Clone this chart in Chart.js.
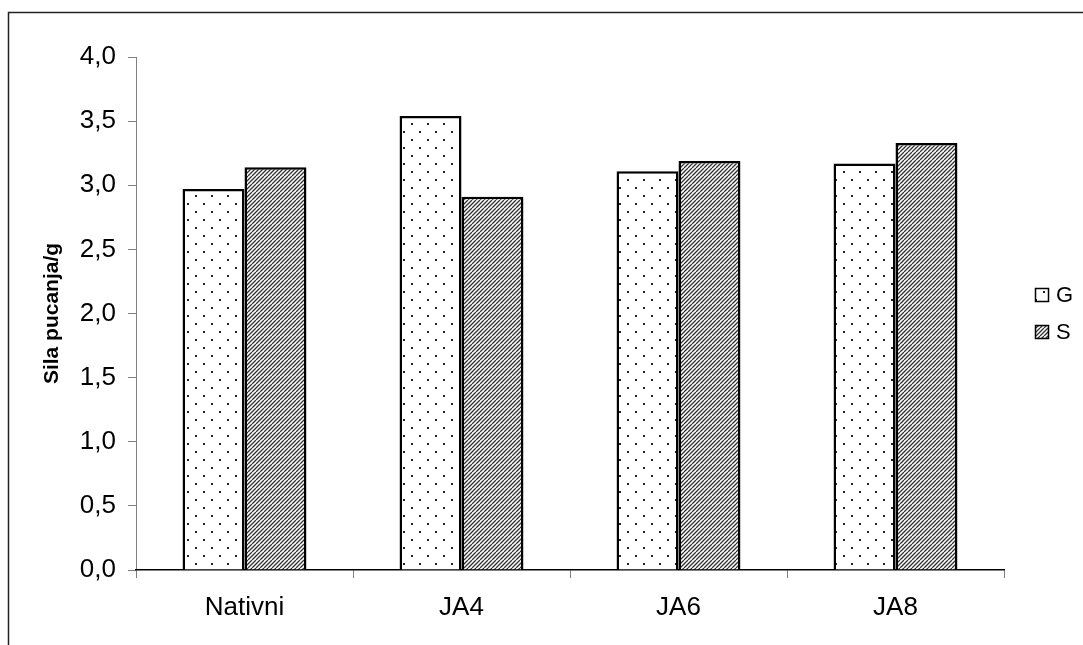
<!DOCTYPE html>
<html>
<head>
<meta charset="utf-8">
<script src="https://cdn.jsdelivr.net/npm/chart.js@4.4.1/dist/chart.umd.min.js"></script>
<style>
  html, body { margin: 0; padding: 0; background: #fff; }
  #wrap { width: 1083px; height: 645px; }
</style>
</head>
<body>
<div id="wrap"><canvas id="myChart"></canvas></div>
<script>
var categories = ["Nativni", "JA4", "JA6", "JA8"];
var seriesNames = ["G", "S"];
var valuesG = [2.97, 3.54, 3.11, 3.17];
var valuesS = [3.14, 2.91, 3.19, 3.33];
var yTickLabels = ["0,0", "0,5", "1,0", "1,5", "2,0", "2,5", "3,0", "3,5", "4,0"];

var FONT = "'Liberation Sans', Arial, sans-serif";

// dotted fill for G
function dotPattern() {
  var c = document.createElement("canvas");
  c.width = 16; c.height = 16;
  var g = c.getContext("2d");
  g.fillStyle = "#fff";
  g.fillRect(0, 0, 16, 16);
  g.fillStyle = "#222";
  g.fillRect(3, 3, 2, 2);
  g.fillRect(11, 11, 2, 2);
  return g.createPattern(c, "repeat");
}

// "/" hatch for S
function hatchPattern() {
  var c = document.createElement("canvas");
  c.width = 8; c.height = 8;
  var g = c.getContext("2d");
  g.fillStyle = "#fff";
  g.fillRect(0, 0, 8, 8);
  g.strokeStyle = "#333";
  g.lineWidth = 1.3;
  g.beginPath();
  for (var k = -2; k <= 3; k++) {
    g.moveTo(k * 4, 8);
    g.lineTo(k * 4 + 8, 0);
  }
  g.stroke();
  return g.createPattern(c, "repeat");
}

var fills = [dotPattern(), hatchPattern()];

var frameAndLegend = {
  id: "frameAndLegend",
  afterDraw: function (chart) {
    var ctx = chart.ctx;
    ctx.save();
    ctx.strokeStyle = "#222";
    ctx.lineWidth = 1.5;
    ctx.strokeRect(8.5, 12.5, 1200, 800);

    var boxY = [288, 325];
    chart.data.datasets.forEach(function (ds, i) {
      ctx.fillStyle = ds.backgroundColor;
      ctx.fillRect(1035, boxY[i], 14, 14);
      ctx.strokeStyle = "#000";
      ctx.lineWidth = 1.5;
      ctx.strokeRect(1035.5, boxY[i] + 0.5, 13, 13);
      ctx.fillStyle = "#000";
      ctx.font = "22px " + FONT;
      ctx.textBaseline = "middle";
      ctx.textAlign = "left";
      ctx.fillText(ds.label, 1056, boxY[i] + 8);
    });
    ctx.restore();
  }
};

var ctx = document.getElementById("myChart").getContext("2d");
var myChart = new Chart(ctx, {
  type: "bar",
  data: {
    labels: categories,
    datasets: [
      {
        label: seriesNames[0],
        data: valuesG,
        backgroundColor: fills[0],
        borderColor: "#000",
        borderWidth: 2.5,
        categoryPercentage: 0.571,
        barPercentage: 1
      },
      {
        label: seriesNames[1],
        data: valuesS,
        backgroundColor: fills[1],
        borderColor: "#000",
        borderWidth: 2.5,
        categoryPercentage: 0.571,
        barPercentage: 1
      }
    ]
  },
  options: {
    responsive: true,
    maintainAspectRatio: false,
    animation: false,
    layout: { padding: { left: 0, right: 79, top: 57, bottom: 0 } },
    plugins: {
      legend: { display: false },
      tooltip: { enabled: false }
    },
    scales: {
      y: {
        min: 0,
        max: 4,
        afterFit: function (scale) { scale.width = 136; },
        ticks: {
          stepSize: 0.5,
          padding: 12,
          color: "#000",
          font: { family: FONT, size: 26 },
          callback: function (value, index) { return yTickLabels[index]; }
        },
        grid: { drawOnChartArea: false, tickLength: 8, color: "#808080" },
        border: { color: "#808080", width: 1 },
        title: {
          display: true,
          text: "Sila pucanja/g",
          color: "#000",
          font: { family: FONT, size: 21, weight: "bold" },
          padding: { top: 40, bottom: 0 }
        }
      },
      x: {
        afterFit: function (scale) { scale.height = 75; },
        ticks: {
          padding: 14,
          color: "#000",
          font: { family: FONT, size: 26 }
        },
        grid: { drawOnChartArea: false, tickLength: 8, color: "#808080", offset: true },
        border: { color: "#000", width: 1.5 }
      }
    }
  },
  plugins: [frameAndLegend]
});
</script>
</body>
</html>
